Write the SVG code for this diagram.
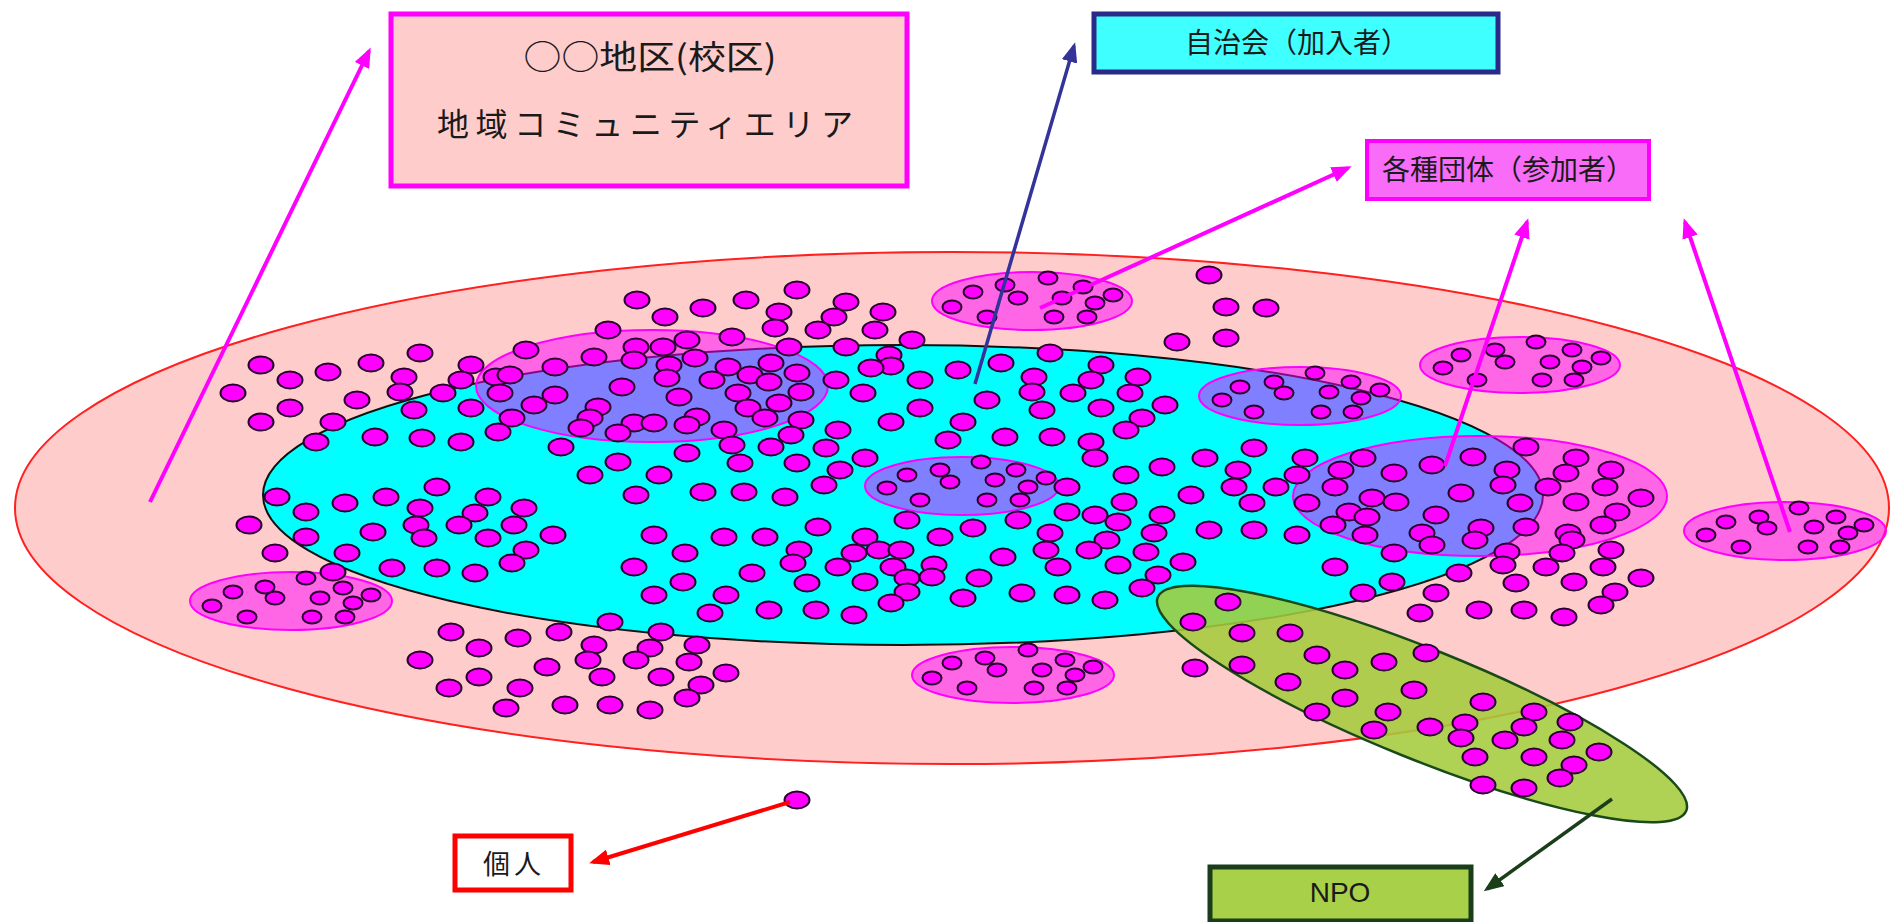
<svg xmlns="http://www.w3.org/2000/svg" xmlns:xlink="http://www.w3.org/1999/xlink" width="1896" height="922" viewBox="0 0 1896 922">
<style>
.dot{fill:#ff00ff;stroke:#2a0030;stroke-width:2}
.grp{fill:#ff00ff;fill-opacity:0.5;stroke:#ff00ff;stroke-width:2}
.jp{font-family:"Noto Sans CJK JP","Noto Sans",sans-serif;fill:#1a1a1a}
.en{font-family:"Liberation Sans",Arial,sans-serif;fill:#1a1a1a}
.cm{stroke:#ff00ff;stroke-width:4;fill:none}
</style>
<defs>
<ellipse id="d" class="dot" rx="12.5" ry="8.5"/>
<ellipse id="s" class="dot" rx="9.5" ry="6.5"/>
<marker id="am" markerUnits="userSpaceOnUse" markerWidth="22" markerHeight="16" refX="16" refY="8" orient="auto"><path d="M0,0 L20,8 L0,16 z" fill="#ff00ff"/></marker>
<marker id="ab" markerUnits="userSpaceOnUse" markerWidth="22" markerHeight="16" refX="16" refY="8" orient="auto"><path d="M0,0 L20,8 L0,16 z" fill="#333399"/></marker>
<marker id="ar" markerUnits="userSpaceOnUse" markerWidth="22" markerHeight="16" refX="16" refY="8" orient="auto"><path d="M0,0 L20,8 L0,16 z" fill="#ff0000"/></marker>
<marker id="ag" markerUnits="userSpaceOnUse" markerWidth="22" markerHeight="16" refX="16" refY="8" orient="auto"><path d="M0,0 L20,8 L0,16 z" fill="#1a3d1a"/></marker>
</defs>
<rect width="1896" height="922" fill="#ffffff"/>
<g id="community-area"><ellipse cx="952" cy="508" rx="937" ry="256" fill="#ffcccc" stroke="#ff2020" stroke-width="2"/></g>
<g id="jichikai-area"><ellipse cx="903" cy="495" rx="640" ry="150" fill="#00ffff" stroke="#101010" stroke-width="2"/></g>
<g id="groups">
<ellipse class="grp" cx="652" cy="386" rx="176" ry="56"/>
<ellipse class="grp" cx="1032" cy="301" rx="100" ry="29"/>
<ellipse class="grp" cx="1520" cy="365" rx="100" ry="28"/>
<ellipse class="grp" cx="1300" cy="396" rx="101" ry="29"/>
<ellipse class="grp" cx="962" cy="486" rx="97" ry="29"/>
<ellipse class="grp" cx="1480" cy="496" rx="187" ry="60"/>
<ellipse class="grp" cx="1785" cy="531" rx="101" ry="29"/>
<ellipse class="grp" cx="291" cy="601" rx="101" ry="29"/>
<ellipse class="grp" cx="1013" cy="675" rx="101" ry="28"/>
</g>
<g id="npo-area"><ellipse cx="1422" cy="704" rx="285" ry="55" transform="rotate(22 1422 704)" fill="#a5cc3c" fill-opacity="0.88" stroke="#1a4a1a" stroke-width="2.5"/></g>
<g id="dots">
<use href="#d" x="637" y="300"/><use href="#d" x="608" y="330"/><use href="#d" x="526" y="350"/><use href="#d" x="594" y="357"/><use href="#d" x="636" y="347"/><use href="#d" x="634" y="360"/><use href="#d" x="420" y="353"/><use href="#d" x="471" y="365"/><use href="#d" x="555" y="367"/><use href="#d" x="261" y="365"/><use href="#d" x="328" y="372"/><use href="#d" x="371" y="363"/><use href="#d" x="290" y="380"/><use href="#d" x="404" y="377"/><use href="#d" x="461" y="380"/><use href="#d" x="496" y="377"/><use href="#d" x="510" y="375"/><use href="#d" x="233" y="393"/><use href="#d" x="357" y="400"/><use href="#d" x="400" y="392"/><use href="#d" x="443" y="393"/><use href="#d" x="500" y="393"/><use href="#d" x="555" y="395"/><use href="#d" x="622" y="387"/><use href="#d" x="290" y="408"/><use href="#d" x="414" y="410"/><use href="#d" x="471" y="408"/><use href="#d" x="534" y="405"/><use href="#d" x="598" y="407"/><use href="#d" x="261" y="422"/><use href="#d" x="333" y="422"/><use href="#d" x="512" y="418"/><use href="#d" x="590" y="418"/><use href="#d" x="581" y="428"/><use href="#d" x="634" y="423"/><use href="#d" x="316" y="442"/><use href="#d" x="375" y="437"/><use href="#d" x="422" y="438"/><use href="#d" x="461" y="442"/><use href="#d" x="498" y="432"/><use href="#d" x="618" y="433"/><use href="#d" x="561" y="447"/><use href="#d" x="618" y="462"/><use href="#d" x="590" y="475"/><use href="#d" x="437" y="487"/><use href="#d" x="277" y="497"/><use href="#d" x="386" y="497"/><use href="#d" x="488" y="497"/><use href="#d" x="636" y="495"/><use href="#d" x="345" y="503"/><use href="#d" x="306" y="512"/><use href="#d" x="420" y="508"/><use href="#d" x="524" y="508"/><use href="#d" x="475" y="513"/><use href="#d" x="249" y="525"/><use href="#d" x="416" y="525"/><use href="#d" x="459" y="525"/><use href="#d" x="514" y="525"/><use href="#d" x="373" y="532"/><use href="#d" x="553" y="535"/><use href="#d" x="306" y="537"/><use href="#d" x="424" y="538"/><use href="#d" x="488" y="538"/>
<use href="#d" x="526" y="550"/><use href="#d" x="275" y="553"/><use href="#d" x="347" y="553"/><use href="#d" x="392" y="568"/><use href="#d" x="437" y="568"/><use href="#d" x="475" y="573"/><use href="#d" x="512" y="563"/><use href="#d" x="333" y="572"/><use href="#d" x="610" y="622"/><use href="#d" x="451" y="632"/><use href="#d" x="518" y="638"/><use href="#d" x="559" y="632"/><use href="#d" x="479" y="648"/><use href="#d" x="594" y="645"/><use href="#d" x="420" y="660"/><use href="#d" x="547" y="667"/><use href="#d" x="588" y="660"/><use href="#d" x="479" y="677"/><use href="#d" x="602" y="677"/><use href="#d" x="449" y="688"/><use href="#d" x="520" y="688"/><use href="#d" x="506" y="708"/><use href="#d" x="565" y="705"/><use href="#d" x="610" y="705"/>
<use href="#s" x="306" y="578"/><use href="#s" x="265" y="587"/><use href="#s" x="233" y="592"/><use href="#s" x="343" y="588"/><use href="#s" x="371" y="595"/><use href="#s" x="275" y="598"/><use href="#s" x="320" y="598"/><use href="#s" x="353" y="603"/><use href="#s" x="212" y="606"/><use href="#s" x="247" y="617"/><use href="#s" x="312" y="617"/><use href="#s" x="345" y="617"/>
<use href="#d" x="797" y="290"/><use href="#d" x="746" y="300"/><use href="#d" x="703" y="308"/><use href="#d" x="665" y="317"/><use href="#d" x="846" y="302"/><use href="#d" x="883" y="312"/><use href="#d" x="779" y="312"/><use href="#d" x="834" y="317"/><use href="#d" x="775" y="328"/><use href="#d" x="818" y="330"/><use href="#d" x="875" y="330"/><use href="#d" x="912" y="340"/><use href="#d" x="732" y="337"/><use href="#d" x="687" y="340"/><use href="#d" x="663" y="347"/><use href="#d" x="789" y="347"/><use href="#d" x="846" y="347"/><use href="#d" x="695" y="358"/><use href="#d" x="669" y="365"/><use href="#d" x="728" y="367"/><use href="#d" x="771" y="363"/><use href="#d" x="889" y="355"/><use href="#d" x="891" y="366"/><use href="#d" x="871" y="368"/><use href="#d" x="1050" y="353"/><use href="#d" x="958" y="370"/><use href="#d" x="1001" y="363"/><use href="#d" x="920" y="380"/><use href="#d" x="836" y="380"/><use href="#d" x="797" y="373"/><use href="#d" x="750" y="375"/><use href="#d" x="769" y="382"/><use href="#d" x="712" y="380"/><use href="#d" x="667" y="378"/><use href="#d" x="1101" y="365"/><use href="#d" x="1034" y="377"/><use href="#d" x="1091" y="380"/><use href="#d" x="1138" y="377"/><use href="#d" x="1032" y="392"/><use href="#d" x="1073" y="393"/><use href="#d" x="1130" y="393"/><use href="#d" x="1165" y="405"/><use href="#d" x="1101" y="408"/><use href="#d" x="1042" y="410"/><use href="#d" x="987" y="400"/><use href="#d" x="920" y="408"/><use href="#d" x="863" y="393"/><use href="#d" x="801" y="392"/><use href="#d" x="738" y="393"/><use href="#d" x="679" y="397"/><use href="#d" x="779" y="403"/><use href="#d" x="748" y="408"/><use href="#d" x="697" y="417"/><use href="#d" x="654" y="423"/><use href="#d" x="687" y="425"/><use href="#d" x="724" y="430"/><use href="#d" x="765" y="418"/><use href="#d" x="801" y="420"/><use href="#d" x="838" y="430"/><use href="#d" x="791" y="435"/><use href="#d" x="732" y="445"/><use href="#d" x="771" y="447"/><use href="#d" x="826" y="448"/><use href="#d" x="891" y="422"/><use href="#d" x="963" y="422"/><use href="#d" x="948" y="440"/><use href="#d" x="1005" y="437"/><use href="#d" x="1052" y="437"/><use href="#d" x="1091" y="442"/><use href="#d" x="1142" y="418"/><use href="#d" x="1126" y="430"/><use href="#d" x="1095" y="458"/><use href="#d" x="1162" y="467"/><use href="#d" x="1205" y="458"/><use href="#d" x="1254" y="448"/><use href="#d" x="1238" y="470"/><use href="#d" x="1234" y="487"/><use href="#d" x="1252" y="503"/><use href="#d" x="1191" y="495"/><use href="#d" x="1126" y="475"/><use href="#d" x="1124" y="502"/><use href="#d" x="1118" y="522"/><use href="#d" x="1067" y="512"/><use href="#d" x="1095" y="515"/><use href="#d" x="1162" y="515"/><use href="#d" x="1209" y="530"/><use href="#d" x="1154" y="533"/><use href="#d" x="1254" y="530"/><use href="#d" x="1067" y="487"/><use href="#d" x="865" y="458"/><use href="#d" x="840" y="470"/><use href="#d" x="824" y="485"/><use href="#d" x="865" y="537"/><use href="#d" x="785" y="497"/><use href="#d" x="744" y="492"/><use href="#d" x="703" y="492"/><use href="#d" x="659" y="475"/><use href="#d" x="687" y="453"/><use href="#d" x="740" y="463"/><use href="#d" x="797" y="463"/><use href="#d" x="818" y="527"/><use href="#d" x="907" y="520"/><use href="#d" x="973" y="528"/><use href="#d" x="1018" y="520"/><use href="#d" x="1050" y="533"/><use href="#d" x="654" y="535"/><use href="#d" x="724" y="537"/><use href="#d" x="765" y="537"/><use href="#d" x="940" y="537"/>
<use href="#d" x="1209" y="275"/><use href="#d" x="1226" y="307"/><use href="#d" x="1266" y="308"/><use href="#d" x="1177" y="342"/><use href="#d" x="1226" y="338"/>
<use href="#s" x="973" y="292"/><use href="#s" x="1005" y="285"/><use href="#s" x="1048" y="278"/><use href="#s" x="952" y="307"/><use href="#s" x="1018" y="298"/><use href="#s" x="1062" y="298"/><use href="#s" x="1083" y="287"/><use href="#s" x="1113" y="295"/><use href="#s" x="1095" y="303"/><use href="#s" x="987" y="317"/><use href="#s" x="1054" y="317"/><use href="#s" x="1087" y="317"/>
<use href="#s" x="887" y="488"/><use href="#s" x="907" y="475"/><use href="#s" x="940" y="470"/><use href="#s" x="950" y="482"/><use href="#s" x="920" y="500"/><use href="#s" x="981" y="462"/><use href="#s" x="995" y="480"/><use href="#s" x="987" y="500"/><use href="#s" x="1016" y="470"/><use href="#s" x="1046" y="478"/><use href="#s" x="1028" y="487"/><use href="#s" x="1020" y="500"/>
<use href="#d" x="1107" y="540"/><use href="#d" x="799" y="550"/><use href="#d" x="854" y="553"/><use href="#d" x="879" y="550"/><use href="#d" x="901" y="550"/><use href="#d" x="685" y="553"/><use href="#d" x="634" y="567"/><use href="#d" x="752" y="573"/><use href="#d" x="793" y="563"/><use href="#d" x="838" y="567"/><use href="#d" x="893" y="567"/><use href="#d" x="934" y="565"/><use href="#d" x="1003" y="557"/><use href="#d" x="1046" y="550"/><use href="#d" x="1089" y="550"/><use href="#d" x="1146" y="552"/><use href="#d" x="1058" y="567"/><use href="#d" x="1118" y="565"/><use href="#d" x="1183" y="562"/><use href="#d" x="683" y="582"/><use href="#d" x="807" y="583"/><use href="#d" x="865" y="582"/><use href="#d" x="907" y="578"/><use href="#d" x="932" y="577"/><use href="#d" x="979" y="578"/><use href="#d" x="1158" y="575"/><use href="#d" x="654" y="595"/><use href="#d" x="726" y="595"/><use href="#d" x="907" y="592"/><use href="#d" x="891" y="603"/><use href="#d" x="963" y="598"/><use href="#d" x="1022" y="593"/><use href="#d" x="1067" y="595"/><use href="#d" x="1105" y="600"/><use href="#d" x="1142" y="588"/><use href="#d" x="710" y="613"/><use href="#d" x="769" y="610"/><use href="#d" x="816" y="610"/><use href="#d" x="854" y="615"/><use href="#d" x="1228" y="602"/><use href="#d" x="1193" y="622"/><use href="#d" x="1242" y="633"/><use href="#d" x="1195" y="668"/><use href="#d" x="1242" y="665"/><use href="#d" x="661" y="632"/><use href="#d" x="650" y="648"/><use href="#d" x="697" y="645"/><use href="#d" x="636" y="660"/><use href="#d" x="689" y="662"/><use href="#d" x="661" y="677"/><use href="#d" x="726" y="673"/><use href="#d" x="701" y="685"/><use href="#d" x="687" y="698"/><use href="#d" x="650" y="710"/>
<use href="#s" x="1028" y="650"/><use href="#s" x="985" y="658"/><use href="#s" x="1065" y="660"/><use href="#s" x="952" y="663"/><use href="#s" x="997" y="670"/><use href="#s" x="1042" y="670"/><use href="#s" x="1093" y="667"/><use href="#s" x="1075" y="675"/><use href="#s" x="932" y="678"/><use href="#s" x="967" y="688"/><use href="#s" x="1034" y="688"/><use href="#s" x="1067" y="688"/>
<use href="#d" x="1305" y="458"/><use href="#d" x="1363" y="458"/><use href="#d" x="1341" y="470"/><use href="#d" x="1432" y="465"/><use href="#d" x="1473" y="457"/><use href="#d" x="1394" y="473"/><use href="#d" x="1297" y="475"/><use href="#d" x="1276" y="487"/><use href="#d" x="1335" y="487"/><use href="#d" x="1507" y="470"/><use href="#d" x="1503" y="485"/><use href="#d" x="1526" y="447"/><use href="#d" x="1576" y="458"/><use href="#d" x="1611" y="470"/><use href="#d" x="1566" y="473"/><use href="#d" x="1548" y="487"/><use href="#d" x="1605" y="487"/><use href="#d" x="1461" y="493"/><use href="#d" x="1372" y="498"/><use href="#d" x="1396" y="502"/><use href="#d" x="1307" y="503"/><use href="#d" x="1520" y="503"/><use href="#d" x="1576" y="502"/><use href="#d" x="1641" y="498"/><use href="#d" x="1349" y="512"/><use href="#d" x="1367" y="517"/><use href="#d" x="1436" y="515"/><use href="#d" x="1617" y="512"/><use href="#d" x="1333" y="525"/><use href="#d" x="1603" y="525"/><use href="#d" x="1526" y="527"/><use href="#d" x="1481" y="528"/><use href="#d" x="1422" y="533"/><use href="#d" x="1365" y="535"/><use href="#d" x="1297" y="535"/><use href="#d" x="1568" y="533"/>
<use href="#s" x="1240" y="387"/><use href="#s" x="1222" y="400"/><use href="#s" x="1254" y="412"/><use href="#s" x="1315" y="373"/><use href="#s" x="1274" y="382"/><use href="#s" x="1351" y="382"/><use href="#s" x="1284" y="393"/><use href="#s" x="1329" y="392"/><use href="#s" x="1380" y="390"/><use href="#s" x="1361" y="398"/><use href="#s" x="1321" y="412"/><use href="#s" x="1353" y="412"/>
<use href="#s" x="1536" y="342"/><use href="#s" x="1495" y="350"/><use href="#s" x="1461" y="355"/><use href="#s" x="1572" y="350"/><use href="#s" x="1601" y="358"/><use href="#s" x="1505" y="362"/><use href="#s" x="1550" y="362"/><use href="#s" x="1582" y="367"/><use href="#s" x="1443" y="368"/><use href="#s" x="1477" y="380"/><use href="#s" x="1542" y="380"/><use href="#s" x="1574" y="380"/>
<use href="#s" x="1799" y="508"/><use href="#s" x="1726" y="522"/><use href="#s" x="1759" y="517"/><use href="#s" x="1836" y="517"/><use href="#s" x="1864" y="525"/><use href="#s" x="1767" y="528"/><use href="#s" x="1814" y="527"/><use href="#s" x="1706" y="535"/><use href="#s" x="1848" y="533"/><use href="#s" x="1741" y="547"/><use href="#s" x="1808" y="547"/><use href="#s" x="1840" y="547"/>
<use href="#d" x="1432" y="545"/><use href="#d" x="1475" y="540"/><use href="#d" x="1572" y="540"/><use href="#d" x="1507" y="552"/><use href="#d" x="1562" y="553"/><use href="#d" x="1611" y="550"/><use href="#d" x="1394" y="553"/><use href="#d" x="1335" y="567"/><use href="#d" x="1503" y="565"/><use href="#d" x="1546" y="567"/><use href="#d" x="1603" y="567"/><use href="#d" x="1459" y="573"/><use href="#d" x="1392" y="582"/><use href="#d" x="1516" y="583"/><use href="#d" x="1574" y="582"/><use href="#d" x="1641" y="578"/><use href="#d" x="1363" y="593"/><use href="#d" x="1436" y="593"/><use href="#d" x="1615" y="592"/><use href="#d" x="1601" y="605"/><use href="#d" x="1420" y="613"/><use href="#d" x="1479" y="610"/><use href="#d" x="1524" y="610"/><use href="#d" x="1564" y="617"/>
<use href="#d" x="1290" y="633"/><use href="#d" x="1317" y="655"/><use href="#d" x="1384" y="662"/><use href="#d" x="1426" y="653"/><use href="#d" x="1345" y="670"/><use href="#d" x="1288" y="682"/><use href="#d" x="1414" y="690"/><use href="#d" x="1345" y="698"/><use href="#d" x="1317" y="712"/><use href="#d" x="1388" y="712"/><use href="#d" x="1483" y="702"/><use href="#d" x="1534" y="712"/><use href="#d" x="1374" y="730"/><use href="#d" x="1430" y="727"/><use href="#d" x="1465" y="723"/><use href="#d" x="1524" y="727"/><use href="#d" x="1570" y="722"/><use href="#d" x="1461" y="738"/><use href="#d" x="1505" y="740"/><use href="#d" x="1562" y="740"/><use href="#d" x="1599" y="752"/><use href="#d" x="1475" y="757"/><use href="#d" x="1534" y="757"/><use href="#d" x="1574" y="765"/><use href="#d" x="1560" y="778"/><use href="#d" x="1483" y="785"/><use href="#d" x="1524" y="788"/>
<use href="#d" x="797" y="800"/>
</g>
<g id="connectors">
<line class="cm" x1="150" y1="502" x2="369" y2="51" marker-end="url(#am)"/>
<line x1="975" y1="384" x2="1074" y2="46" stroke="#333399" stroke-width="3.5" marker-end="url(#ab)"/>
<line class="cm" x1="1040" y1="308" x2="1348" y2="168" marker-end="url(#am)"/>
<line class="cm" x1="1445" y1="466" x2="1527" y2="222" marker-end="url(#am)"/>
<line class="cm" x1="1790" y1="532" x2="1685" y2="222" marker-end="url(#am)"/>
<line x1="790" y1="802" x2="593" y2="862" stroke="#ff0000" stroke-width="4" marker-end="url(#ar)"/>
<line x1="1612" y1="799" x2="1487" y2="889" stroke="#1a3d1a" stroke-width="3.5" marker-end="url(#ag)"/>
</g>
<g id="label-area">
<rect x="391" y="14" width="516" height="172" fill="#ffcccc" stroke="#ff00ff" stroke-width="5"/>
<text class="jp" x="650" y="69" font-size="33" text-anchor="middle" textLength="253" lengthAdjust="spacingAndGlyphs">○○地区(校区)</text>
<text class="jp" x="645" y="136" font-size="32" text-anchor="middle" textLength="416" lengthAdjust="spacing">地域コミュニティエリア</text>
</g>
<g id="label-jichikai">
<rect x="1094" y="14" width="404" height="58" fill="#40ffff" stroke="#2a2a88" stroke-width="5"/>
<text class="jp" x="1297" y="53" font-size="28" text-anchor="middle">自治会（加入者）</text>
</g>
<g id="label-dantai">
<rect x="1367" y="141" width="282" height="58" fill="#f86cf8" stroke="#ff00ff" stroke-width="4"/>
<text class="jp" x="1508" y="180" font-size="28" text-anchor="middle">各種団体（参加者）</text>
</g>
<g id="label-kojin">
<rect x="455" y="836" width="116" height="54" fill="#ffffff" stroke="#ff0000" stroke-width="5"/>
<text class="jp" x="514" y="874" font-size="27" text-anchor="middle" letter-spacing="4">個人</text>
</g>
<g id="label-npo">
<rect x="1210" y="867" width="261" height="54" fill="#a8d048" stroke="#1a3d1a" stroke-width="5"/>
<text class="en" x="1340" y="902" font-size="28" text-anchor="middle">NPO</text>
</g>
</svg>
